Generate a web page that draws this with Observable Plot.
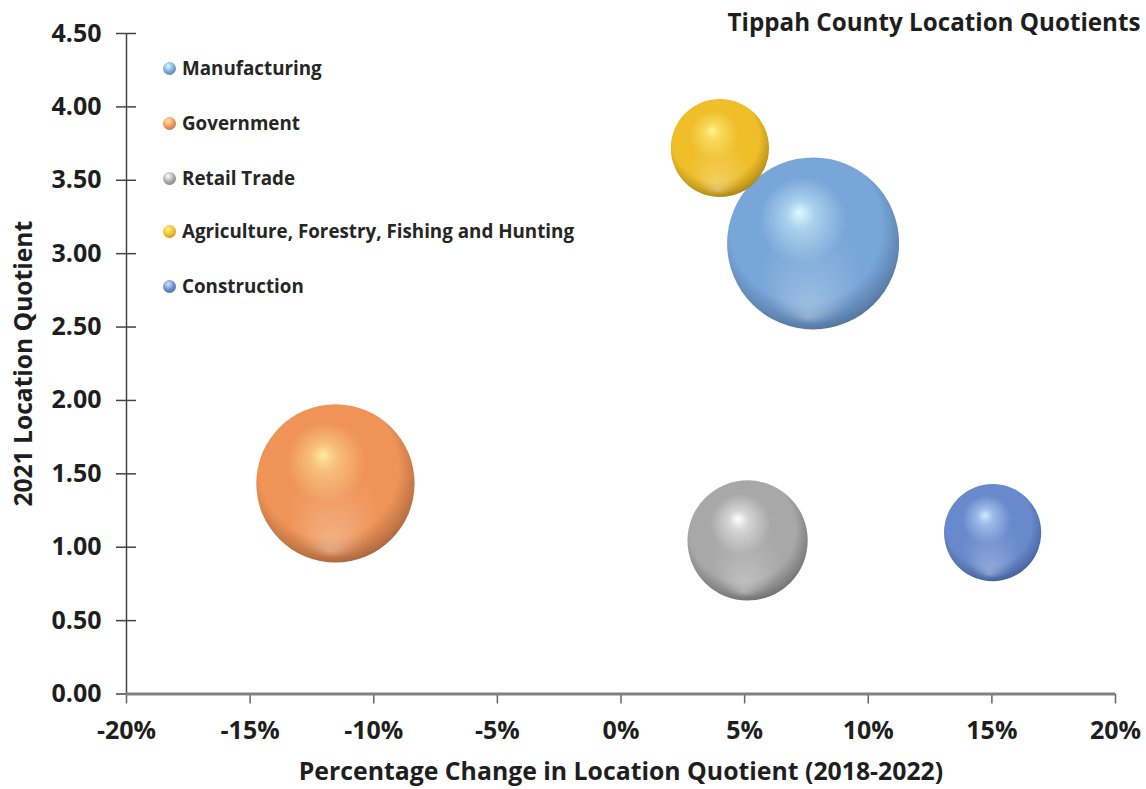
<!DOCTYPE html>
<html><head><meta charset="utf-8">
<script src="https://cdn.jsdelivr.net/npm/d3@7"></script>
<script src="https://cdn.jsdelivr.net/npm/@observablehq/plot@0.6"></script>
<style>
body{margin:0;background:#fff;font-family:"Open Sans",sans-serif;}
#wrap{position:relative;width:1146px;height:789px;}
.item{position:absolute;left:163px;white-space:nowrap;font-weight:700;font-size:18.8px;color:#262626;display:flex;align-items:center;height:20px;line-height:20px;}
.sw{width:13px;height:13px;border-radius:50%;margin-right:6px;flex:none;}
</style></head><body><div id="wrap"></div>
<script>
const industries = ["Manufacturing", "Government", "Retail Trade", "Agriculture, Forestry, Fishing and Hunting", "Construction"];
const pctChange = [7.77, -11.55, 5.12, 4.00, 15.03];
const lq2021 = [3.07, 1.435, 1.046, 3.72, 1.10];
const employment = [3070, 2600, 1500, 1000, 980];
const baseColors = ["#78a6d8", "#ef9356", "#a8a8a8", "#efbe28", "#6889cc"];
const lightColors = ["#dcfaff", "#ffeaa0", "#ffffff", "#fff48a", "#cdeaff"];
const darkColors = ["#4d6d96", "#a0603a", "#676767", "#a07e18", "#3f5b92"];
const xTicks = [-20, -15, -10, -5, 0, 5, 10, 15, 20];
const yTicks = [0, 0.5, 1, 1.5, 2, 2.5, 3, 3.5, 4, 4.5];
const title = "Tippah County Location Quotients";
const xLabel = "Percentage Change in Location Quotient (2018-2022)";
const yLabel = "2021 Location Quotient";

const data = industries.map((name, i) => ({name, x: pctChange[i], y: lq2021[i], size: employment[i], fill: `url(#g${i})`}));

const chart = Plot.plot({
  width: 1146, height: 789,
  marginLeft: 126, marginRight: 31, marginTop: 33, marginBottom: 95.5,
  style: {fontFamily: "'Open Sans', sans-serif", fontWeight: 700, fontSize: "24px", color: "#1e1e1e", background: "#fff", overflow: "visible"},
  x: {domain: [xTicks[0], xTicks[xTicks.length - 1]]},
  y: {domain: [yTicks[0], yTicks[yTicks.length - 1]]},
  r: {domain: [0, d3.max(employment)], range: [0, 86]},
  color: {type: "identity"},
  marks: [
    Plot.ruleX([xTicks[0]], {stroke: "#444", strokeWidth: 1.5}),
    Plot.axisY(yTicks, {tickSize: 20, dx: 10, fill: "none", stroke: "#444", strokeWidth: 1.5, label: null}),
    Plot.axisY(yTicks, {tickSize: 0, tickPadding: 25, stroke: "none", tickFormat: d3.format(".2f"), label: null, fontSize: 25}),
    Plot.axisX(xTicks, {tickSize: 10, fill: "none", stroke: "#666", strokeWidth: 1.5, label: null}),
    Plot.axisX(xTicks, {tickSize: 0, tickPadding: 27.5, stroke: "none", tickFormat: d => d + "%", label: null, fontSize: 25}),
    Plot.ruleY([yTicks[0]], {stroke: "#808080", strokeWidth: 3}),
    Plot.dot(data, {x: "x", y: "y", r: "size", fill: "fill", stroke: "none"}),
    Plot.dot(data, {x: "x", y: "y", r: "size", fill: () => "url(#refl)", stroke: "none"}),
    Plot.text([xLabel], {frameAnchor: "bottom", dy: 78, lineAnchor: "middle", textAnchor: "middle", fontSize: 24.8}),
    Plot.text([yLabel], {frameAnchor: "left", dx: -102, rotate: -90, lineAnchor: "middle", textAnchor: "middle", fontSize: 24.6}),
    Plot.text([title], {frameAnchor: "top-right", dx: 25, dy: -10, textAnchor: "end", lineAnchor: "middle", fontSize: 24.2})
  ]
});

const defs = document.createElementNS("http://www.w3.org/2000/svg", "defs");
defs.innerHTML = industries.map((n, i) => {
  const mid = d3.interpolateRgb(lightColors[i], baseColors[i])(0.5);
  const rim = d3.interpolateRgb(baseColors[i], darkColors[i])(0.55);
  return `
  <radialGradient id="g${i}" cx="0.47" cy="0.43" r="0.6" fx="0.42" fy="0.32">
    <stop offset="0" stop-color="${lightColors[i]}"/>
    <stop offset="0.14" stop-color="${mid}"/>
    <stop offset="0.42" stop-color="${baseColors[i]}"/>
    <stop offset="0.74" stop-color="${baseColors[i]}"/>
    <stop offset="0.9" stop-color="${rim}"/>
    <stop offset="1" stop-color="${darkColors[i]}"/>
  </radialGradient>`;
}).join("") + `
  <radialGradient id="refl" cx="0.5" cy="0.5" r="0.5" fx="0.47" fy="0.93">
    <stop offset="0" stop-color="#fff" stop-opacity="0.3"/>
    <stop offset="0.4" stop-color="#fff" stop-opacity="0.08"/>
    <stop offset="0.6" stop-color="#fff" stop-opacity="0"/>
  </radialGradient>`;
chart.insertBefore(defs, chart.firstChild);

const wrap = document.getElementById("wrap");
wrap.appendChild(chart);
const legendY = [68, 123, 178, 231, 286];
industries.forEach((name, i) => {
  const item = document.createElement("div");
  item.className = "item";
  item.style.top = (legendY[i] - 10) + "px";
  const sw = document.createElement("span");
  sw.className = "sw";
  sw.style.background = `radial-gradient(circle at 40% 32%, ${lightColors[i]} 0%, ${baseColors[i]} 50%, ${darkColors[i]} 100%)`;
  item.appendChild(sw);
  item.appendChild(document.createTextNode(name));
  wrap.appendChild(item);
});
</script></body></html>
